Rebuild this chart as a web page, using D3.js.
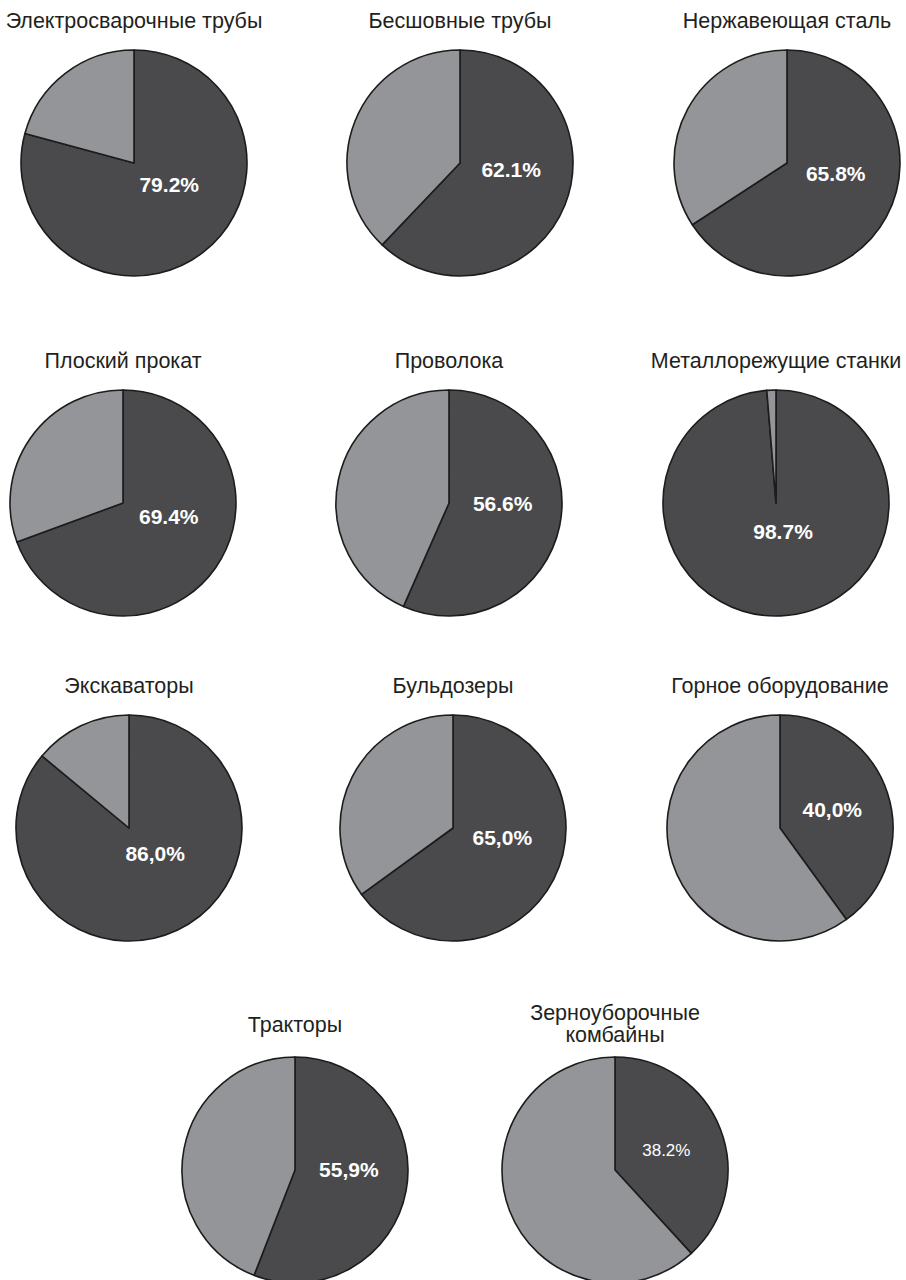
<!DOCTYPE html>
<html>
<head>
<meta charset="utf-8">
<script src="https://cdn.jsdelivr.net/npm/d3@7"></script>
<style>
  body { margin: 0; background: #fff; }
  text { font-family: "Liberation Sans", Arial, sans-serif; }
</style>
</head>
<body>
<script>
// titles of each small pie (line breaks split by "|")
var titles = [
  "Электросварочные трубы", "Бесшовные трубы", "Нержавеющая сталь",
  "Плоский прокат", "Проволока", "Металлорежущие станки",
  "Экскаваторы", "Бульдозеры", "Горное оборудование",
  "Тракторы", "Зерноуборочные|комбайны"
];
// share of the dark slice, %
var shares = [79.2, 62.1, 65.8, 69.4, 56.6, 98.7, 86.0, 65.0, 40.0, 55.9, 38.2];
// label text as printed in the picture
var labels = ["79.2%", "62.1%", "65.8%", "69.4%", "56.6%", "98.7%",
              "86,0%", "65,0%", "40,0%", "55,9%", "38.2%"];
// last label is set in plain, smaller type
var boldLabel = [true, true, true, true, true, true, true, true, true, true, false];

// panel layout: centers per row
var rowY = [163, 503, 828, 1170];
var rowCols = [[134, 460, 787], [123, 449, 776], [129, 453, 780], [295, 615]];
var radius = 113;

var width = 906, height = 1280;
var svg = d3.select("body").append("svg")
  .attr("width", width)
  .attr("height", height);

var color = d3.scaleOrdinal()
  .domain(["main", "rest"])
  .range(["#4a4a4c", "#939598"]);

var pie = d3.pie()
  .sort(null)
  .value(function(d){ return d.value; });

var arc = d3.arc().innerRadius(0).outerRadius(radius);

// label anchor inside the slice, a bit flattened like the office-chart placement
function labelPos(a) {
  var mid = (a.startAngle + a.endAngle) / 2;
  return [5 + radius * 0.44 * Math.sin(mid), -7 - radius * 0.32 * Math.cos(mid)];
}

var k = 0;
rowCols.forEach(function(cols, r) {
  cols.forEach(function(cx) {
    var i = k++;
    var g = svg.append("g")
      .attr("transform", "translate(" + cx + "," + rowY[r] + ")");

    var data = [
      {key: "main", value: shares[i]},
      {key: "rest", value: 100 - shares[i]}
    ];
    var arcs = pie(data);

    g.selectAll("path")
      .data(arcs)
      .enter()
      .append("path")
        .attr("d", arc)
        .attr("fill", function(d){ return color(d.data.key); })
        .attr("stroke", "#1c1c1c")
        .attr("stroke-width", 1.6)
        .attr("stroke-linejoin", "round");

    // title above the pie
    var lines = titles[i].split("|");
    var gap = r == 3 ? (lines.length > 1 ? 15 : 25) : 22;
    var t = g.append("text")
      .attr("text-anchor", "middle")
      .attr("font-size", "21.5px")
      .attr("fill", "#231f20");
    lines.forEach(function(line, j) {
      t.append("tspan")
        .attr("x", 0)
        .attr("y", -radius - gap - (lines.length - 1 - j) * 22)
        .text(line);
    });

    // value label on the dark slice
    var c = labelPos(arcs[0]);
    g.append("text")
      .attr("x", c[0])
      .attr("y", c[1])
      .attr("dy", "0.35em")
      .attr("text-anchor", "middle")
      .attr("font-size", boldLabel[i] ? "21px" : "17px")
      .attr("font-weight", boldLabel[i] ? "bold" : "normal")
      .attr("fill", "#ffffff")
      .text(labels[i]);
  });
});
</script>
</body>
</html>
